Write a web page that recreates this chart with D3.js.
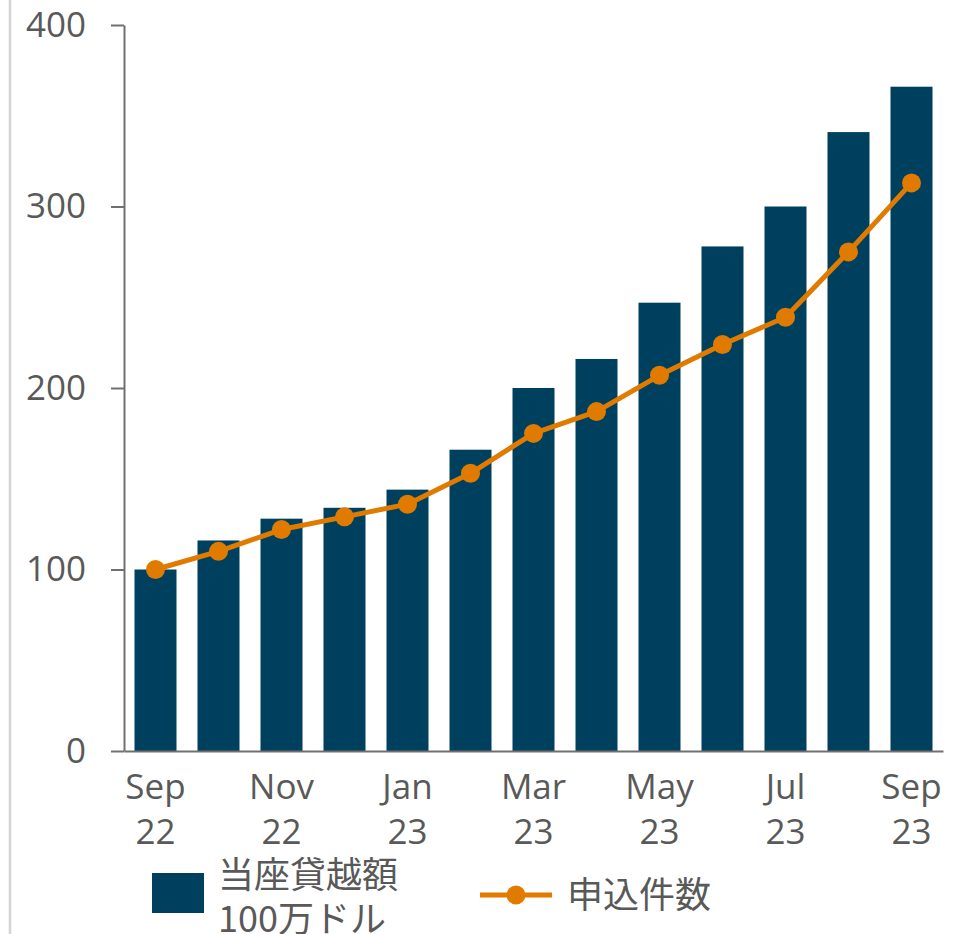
<!DOCTYPE html>
<html><head><meta charset="utf-8">
<script src="https://cdn.jsdelivr.net/npm/d3@7"></script>
<style>
body{margin:0;background:#fff;}
svg{display:block;font-family:"Open Sans","Noto Sans",sans-serif;}
</style></head>
<body>
<svg id="chart" width="958" height="934"></svg>
<script>
const months = ["Sep","Oct","Nov","Dec","Jan","Feb","Mar","Apr","May","Jun","Jul","Aug","Sep"];
const years  = ["22","22","22","22","23","23","23","23","23","23","23","23","23"];
const overdraft = [100,116,128,134,144,166,200,216,247,278,300,341,366];
const applications = [100,110,122,129,136,153,175,187,207,224,239,275,313];
const yTicks = [0,100,200,300,400];
const legendBar = ["当座貸越額","100万ドル"];
const legendLine = "申込件数";

const barColor = "#00405f", lineColor = "#e07b00", textColor = "#595959", axisColor = "#707070";
const svg = d3.select("#chart");

// left light frame line
svg.append("line").attr("x1",10).attr("x2",10).attr("y1",0).attr("y2",934)
  .attr("stroke","#d4d4d4").attr("stroke-width",2.5);

const idx = d3.range(months.length);
const x = d3.scaleBand().domain(idx).range([124,943]).paddingInner(1/3).paddingOuter(1/6);
const y = d3.scaleLinear().domain([0,400]).range([751,25]);

// bars
svg.append("g").selectAll("rect").data(overdraft).join("rect")
  .attr("x",(d,i)=>x(i)).attr("width",x.bandwidth())
  .attr("y",d=>y(d)).attr("height",d=>y(0)-y(d))
  .attr("fill",barColor);

// y axis
const yAxis = svg.append("g").attr("transform","translate(124,0)")
  .call(d3.axisLeft(y).tickValues(yTicks).tickSize(13).tickSizeOuter(0).tickPadding(25));
yAxis.select(".domain").attr("stroke",axisColor).attr("stroke-width",2);
yAxis.selectAll(".tick line").attr("stroke",axisColor).attr("stroke-width",2);
yAxis.selectAll(".tick text").attr("fill",textColor).style("font-size","35px")
  .style("font-family","'Open Sans',sans-serif");

// x axis
const xAxis = svg.append("g").attr("transform",`translate(0,${y(0)})`)
  .call(d3.axisBottom(x).tickSize(0).tickSizeOuter(0).tickFormat(""));
xAxis.select(".domain").attr("stroke",axisColor).attr("stroke-width",2);
xAxis.selectAll(".tick text").remove();
const xl = svg.append("g").selectAll("text").data(idx.filter(i=>i%2===0)).join("text")
  .attr("text-anchor","middle").attr("fill",textColor).style("font-size","35px");
xl.append("tspan").attr("x",i=>x(i)+x.bandwidth()/2).attr("y",799).text(i=>months[i]);
xl.append("tspan").attr("x",i=>x(i)+x.bandwidth()/2).attr("y",844).text(i=>years[i]);

// line
const line = d3.line().x((d,i)=>x(i)+x.bandwidth()/2).y(d=>y(d));
svg.append("path").datum(applications).attr("d",line)
  .attr("fill","none").attr("stroke",lineColor).attr("stroke-width",5).attr("stroke-linejoin","round");
svg.append("g").selectAll("circle").data(applications).join("circle")
  .attr("cx",(d,i)=>x(i)+x.bandwidth()/2).attr("cy",d=>y(d)).attr("r",9.5).attr("fill",lineColor);

// legend
const lg = svg.append("g");
lg.append("rect").attr("x",152).attr("y",873).attr("width",52).attr("height",40).attr("fill",barColor);
lg.append("text").attr("fill",textColor).style("font-size","36px")
  .style("font-family","'Noto Sans CJK JP','Open Sans',sans-serif")
  .selectAll("tspan").data(legendBar).join("tspan")
  .attr("x",218).attr("y",(d,i)=>888+i*44).text(d=>d);
lg.append("line").attr("x1",480).attr("x2",552).attr("y1",895).attr("y2",895)
  .attr("stroke",lineColor).attr("stroke-width",5);
lg.append("circle").attr("cx",516).attr("cy",895).attr("r",9.5).attr("fill",lineColor);
lg.append("text").attr("x",567).attr("y",908).attr("fill",textColor).style("font-size","36px")
  .style("font-family","'Noto Sans CJK JP','Open Sans',sans-serif").text(legendLine);
</script>
</body></html>
